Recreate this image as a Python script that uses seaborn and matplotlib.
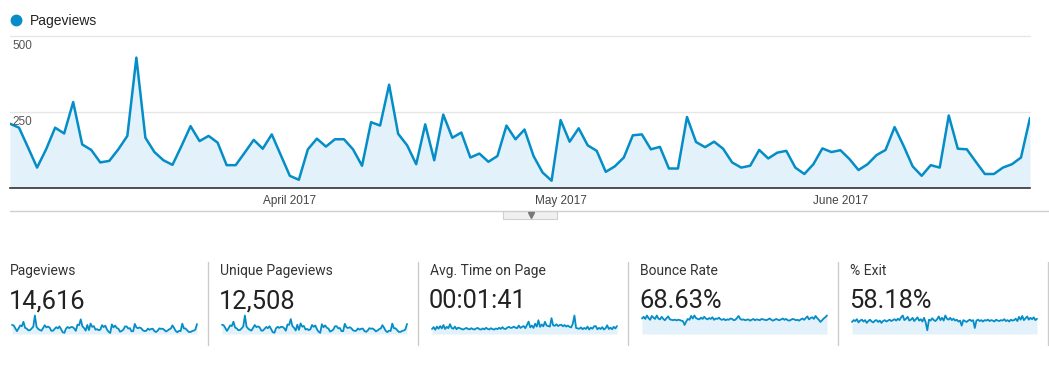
import numpy as np
import pandas as pd
import matplotlib
matplotlib.use("Agg")
import matplotlib.pyplot as plt
from matplotlib.patches import Rectangle
import seaborn as sns

# daily values, 1 Mar 2017 .. 22 Jun 2017
pageviews = [
    211, 198, 133, 67, 127, 198, 179, 282, 143, 125,
    84, 89, 127, 171, 428, 165, 118, 91, 76, 138,
    203, 154, 171, 149, 75, 75, 116, 158, 129, 176,
    108, 40, 27, 127, 162, 136, 160, 160, 127, 73,
    216, 205, 339, 178, 140, 78, 209, 91, 241, 165,
    182, 100, 113, 86, 105, 205, 160, 192, 105, 51,
    24, 223, 152, 196, 140, 122, 53, 71, 100, 173,
    176, 127, 135, 64, 64, 233, 151, 134, 152, 129,
    84, 67, 73, 125, 97, 116, 122, 67, 46, 78,
    130, 118, 124, 95, 59, 78, 108, 125, 200, 138,
    71, 40, 75, 67, 238, 129, 127, 86, 46, 46,
    67, 78, 100, 230,
]
unique_pageviews = [
    180, 170, 118, 60, 110, 168, 155, 240, 125, 108,
    74, 78, 110, 148, 360, 142, 104, 80, 67, 120,
    175, 134, 148, 130, 66, 66, 101, 137, 112, 152,
    95, 36, 24, 111, 140, 118, 139, 139, 111, 64,
    186, 178, 290, 154, 122, 68, 180, 80, 206, 143,
    157, 88, 99, 76, 92, 176, 139, 166, 92, 45,
    22, 190, 132, 168, 122, 106, 47, 62, 88, 150,
    152, 110, 117, 56, 56, 198, 131, 116, 132, 112,
    74, 59, 64, 108, 85, 101, 106, 59, 41, 68,
    113, 103, 108, 83, 52, 68, 94, 109, 172, 120,
    62, 36, 66, 59, 202, 112, 110, 75, 41, 41,
    59, 68, 87, 196,
]
avg_time_sec = [
    95, 130, 80, 140, 100, 150, 105, 170, 95, 135,
    110, 185, 115, 100, 140, 90, 120, 110, 95, 85,
    100, 115, 95, 88, 110, 92, 85, 105, 115, 90,
    84, 105, 88, 118, 95, 86, 110, 92, 84, 105,
    92, 118, 96, 130, 100, 94, 122, 135, 115, 120,
    140, 120, 110, 160, 115, 135, 150, 110, 170, 235,
    125, 160, 115, 195, 140, 260, 135, 180, 145, 230,
    160, 150, 140, 300, 165, 155, 185, 150, 170, 175,
    145, 170, 140, 160, 135, 125, 195, 350, 115, 105,
    100, 125, 90, 115, 95, 140, 85, 120, 100, 145,
    150, 90, 115, 95, 130, 85, 110, 165, 95, 120,
    90, 135, 105, 150,
]
bounce_rate = [
    72, 80, 70, 86, 74, 66, 84, 76, 70, 86,
    72, 68, 80, 70, 64, 74, 82, 68, 66, 64,
    67, 63, 66, 65, 62, 60, 42, 58, 70, 66,
    84, 72, 86, 74, 70, 68, 76, 70, 80, 72,
    68, 74, 70, 78, 66, 72, 70, 76, 68, 66,
    70, 64, 68, 66, 72, 70, 64, 66, 74, 84,
    70, 66, 68, 64, 66, 68, 62, 66, 70, 64,
    68, 66, 64, 70, 68, 66, 64, 68, 72, 66,
    62, 66, 70, 66, 64, 68, 72, 66, 70, 64,
    62, 66, 70, 68, 64, 66, 62, 68, 72, 66,
    74, 82, 68, 74, 78, 70, 84, 74, 66, 56,
    64, 72, 78, 86,
]
exit_rate = [
    52, 60, 56, 64, 50, 58, 62, 54, 60, 48,
    56, 62, 54, 50, 58, 60, 52, 58, 48, 56,
    60, 54, 58, 62, 56, 60, 64, 58, 66, 60,
    72, 80, 60, 66, 74, 58, 62, 70, 56, 64,
    72, 58, 64, 54, 70, 50, 16, 62, 58, 68,
    60, 56, 64, 76, 60, 70, 58, 80, 66, 62,
    70, 60, 66, 58, 62, 54, 58, 36, 60, 56,
    52, 58, 62, 56, 60, 26, 58, 62, 56, 60,
    54, 60, 58, 62, 56, 60, 58, 54, 62, 58,
    56, 60, 58, 64, 56, 60, 54, 62, 58, 60,
    66, 56, 74, 62, 78, 60, 68, 76, 62, 70,
    64, 72, 60, 66,
]

start_date = "2017-03-01"
month_ticks = ["2017-04-01", "2017-05-01", "2017-06-01"]
month_labels = ["April 2017", "May 2017", "June 2017"]
y_ticks = [250, 500]

card_titles = ["Pageviews", "Unique Pageviews", "Avg. Time on Page", "Bounce Rate", "% Exit"]
card_values = ["14,616", "12,508", "00:01:41", "68.63%", "58.18%"]
card_series = [pageviews, unique_pageviews, avg_time_sec, bounce_rate, exit_rate]

W, H = 1049, 375
BLUE = "#058dc7"
FILL = "#e3f2fa"
ROBOTO = ["Roboto", "DejaVu Sans"]

sns.set_style("white")
plt.rcParams["font.family"] = ["Liberation Sans", "DejaVu Sans"]


def box(x0, y0, x1, y1):
    # pixel rectangle (top-left origin) -> figure fraction
    return [x0 / W, 1 - y1 / H, (x1 - x0) / W, (y1 - y0) / H]


fig = plt.figure(figsize=(W / 100, H / 100), dpi=100)

# background layer in pixel coordinates for legend, separators, cards
deco = fig.add_axes([0, 0, 1, 1], zorder=0)
deco.set_xlim(0, W)
deco.set_ylim(H, 0)
deco.axis("off")

# --- main chart ---
df = pd.DataFrame({
    "date": pd.date_range(start_date, periods=len(pageviews)),
    "pageviews": pageviews,
})

ax = fig.add_axes(box(10, 35.7, 1030, 188), zorder=2)
ax.set_facecolor("none")
ax.fill_between(df["date"], df["pageviews"], color=FILL, lw=0)
sns.lineplot(data=df, x="date", y="pageviews", ax=ax, color=BLUE, lw=1.8)
ax.set_xlim(df["date"].iloc[0], df["date"].iloc[-1])
ax.set_ylim(0, 500)
ax.set_yticks(y_ticks)
ax.yaxis.grid(True, color="#e6e6e6", lw=1)
for gl in ax.get_ygridlines():
    gl.set_clip_on(False)
ax.tick_params(axis="y", length=0, labelleft=False)
ax.set_xticks(pd.to_datetime(month_ticks))
ax.set_xticklabels(month_labels)
ax.tick_params(axis="x", length=0, pad=5, labelsize=8.5, labelcolor="#444")
for s in ["top", "left", "right"]:
    ax.spines[s].set_visible(False)
ax.spines["bottom"].set_color("#333333")
ax.spines["bottom"].set_linewidth(1.2)
ax.set_xlabel("")
ax.set_ylabel("")
for v in y_ticks:
    ax.annotate(str(v), xy=(0, v), xycoords=("axes fraction", "data"),
                xytext=(1.5, -9.7), textcoords="offset points",
                va="baseline", fontsize=8.5, color="#555555", zorder=5)

# legend
deco.plot(16, 20, "o", ms=7.5, color=BLUE)
deco.text(30, 25, "Pageviews", fontsize=10, va="baseline", color="#222222")

# separator + collapse tab
deco.plot([10, W], [211, 211], color="#cfcfcf", lw=1)
deco.add_patch(Rectangle((503, 211), 54, 8, fc="#f0f0f0", ec="#d0d0d0", lw=0.8))
deco.plot(531, 215, marker="v", ms=4, color="#777777")

# --- scorecards ---
for i, (title, value, vals) in enumerate(zip(card_titles, card_values, card_series)):
    x0 = 10 + 210 * i
    deco.text(x0, 275, title, fontsize=10, family=ROBOTO, color="#333333", va="baseline")
    deco.text(x0 - 1, 308, value, fontsize=18.4, family=ROBOTO, color="#222222", va="baseline")
    deco.plot([208 + 210 * i] * 2, [262, 345], color="#cccccc", lw=1)

    sax = fig.add_axes(box(12 + 210 * i, 315.5, 197 + 210 * i, 334), zorder=2)
    idx = np.arange(len(vals))
    sax.fill_between(idx, vals, color=FILL, lw=0)
    sns.lineplot(x=idx, y=vals, ax=sax, color=BLUE, lw=1.3)
    sax.set_xlim(0, len(vals) - 1)
    sax.set_ylim(0, max(vals))
    sax.axis("off")
    for ln in sax.lines:
        ln.set_clip_on(False)

fig.savefig("out.png", dpi=100)
